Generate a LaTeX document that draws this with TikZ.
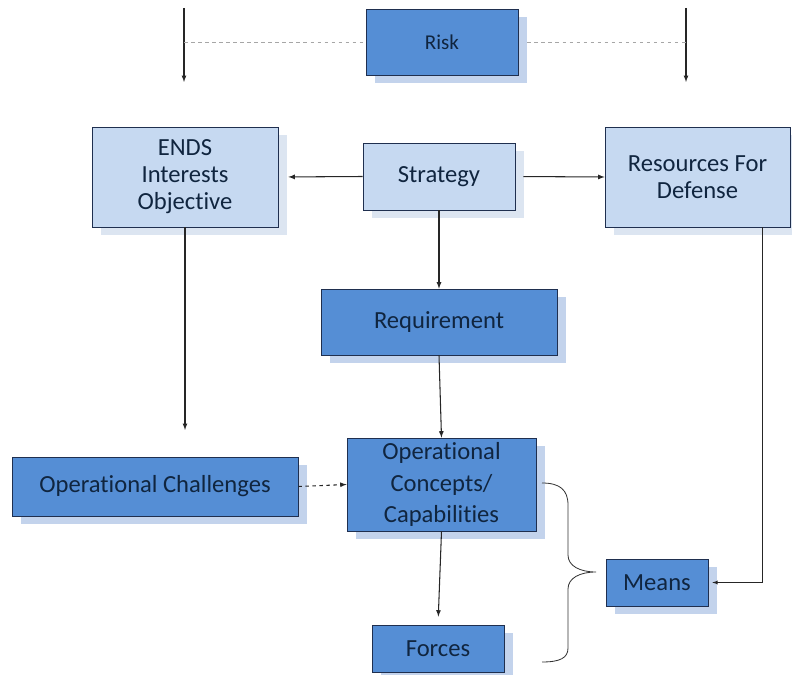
\documentclass[tikz,border=0pt]{standalone}
\usepackage{fontspec}
\setmainfont{Carlito}[Ligatures=NoCommon]
\usetikzlibrary{shadows}
\definecolor{riskblue}{HTML}{558ED5}
\definecolor{paleblue}{HTML}{C6D9F1}
\definecolor{riskshade}{HTML}{C3D3EC}
\definecolor{paleshade}{HTML}{DCE5F1}
\definecolor{boxline}{HTML}{1F2F4F}
\definecolor{boxtext}{HTML}{10253F}
\tikzset{
  box/.style 2 args={draw=boxline, line width=0.6pt, text=boxtext, inner sep=0pt, align=center,
    minimum width=#1*0.3mm, minimum height=#2*0.3mm, font=\fontsize{21}{23}\selectfont},
  boxdark/.style={fill=riskblue, drop shadow={shadow xshift=2.7mm, shadow yshift=-2.4mm, fill=riskshade, opacity=1}},
  boxlight/.style={fill=paleblue, drop shadow={shadow xshift=2.7mm, shadow yshift=-2.4mm, fill=paleshade, opacity=1}},
  link/.style={line width=0.9pt, black!85, ->},
  riskdash/.style={gray!70, dashed, line width=0.6pt}
}
\begin{document}
\begin{tikzpicture}[x=0.3mm, y=-0.3mm, >=latex]
\useasboundingbox (0,0) rectangle (792,675);
% Risk on top
\node[box={152}{66}, boxdark, font=\fontsize{18}{20}\selectfont] (risk) at (442,42) {Risk};
\coordinate (lt) at (184,8);
\coordinate (lb) at (184,82);
\coordinate (rt) at (686,8);
\coordinate (rb) at (686,82);
\draw[link] (lt) -- (lb);
\draw[link] (rt) -- (rb);
\draw[riskdash] (lt |- risk.west) -- (risk.west);
\draw[riskdash, shorten <=2.7mm] (risk.east) -- (rt |- risk.east);
% Ends, Strategy, Resources
\node[box={186}{100}, boxlight] (ends) at (185,177) {ENDS\\Interests\\Objective};
\node[box={152}{67}, boxlight] (strat) at (439,176.5) {Strategy};
\node[box={185}{100}, boxlight] (res) at (697.5,177) {Resources For\\Defense};
\draw[link, shorten >=3mm] (strat.west) -- (ends.east);
\draw[link, shorten <=2.4mm] (strat.east) -- (res.west);
% Requirement
\node[box={236}{66}, boxdark] (req) at (439,322) {Requirement};
\draw[link] (strat.south) -- (req.north);
% Operational level
\node[box={286}{59}, boxdark] (opch) at (155,486.5) {Operational Challenges};
\node[box={189}{93}, boxdark, font=\fontsize{21}{27}\selectfont] (opc) at (441.5,484.5) {Operational\\Concepts/\\Capabilities};
\draw[link, shorten >=8mm] (ends.south) -- (ends.south |- opch.north);
\draw[link] (req.south) -- (opc.north);
\draw[link, dashed] (opch.east) -- (opc.west);
% Forces and Means
\node[box={132}{47}, boxdark] (forces) at (438,648.5) {Forces};
\node[box={102}{47}, boxdark] (means) at (657,582.5) {Means};
\draw[link, shorten >=2.4mm] (opc.south) -- (forces.north);
\draw[link, line width=0.6pt, shorten >=1.2mm] ([xshift=19.35mm]res.south) |- (means.east);
% Brace
\coordinate (bt) at (542,483);
\coordinate (bb) at (542,662);
\draw[line width=0.7pt, black!80] (bt) .. controls (560,483) and (568,490) .. (568,505) -- (568,555)
  .. controls (568,566) and (580,572) .. (596,572) .. controls (580,572) and (568,578) .. (568,589)
  -- (568,648) .. controls (568,658) and (560,662) .. (bb);
\end{tikzpicture}
\end{document}
